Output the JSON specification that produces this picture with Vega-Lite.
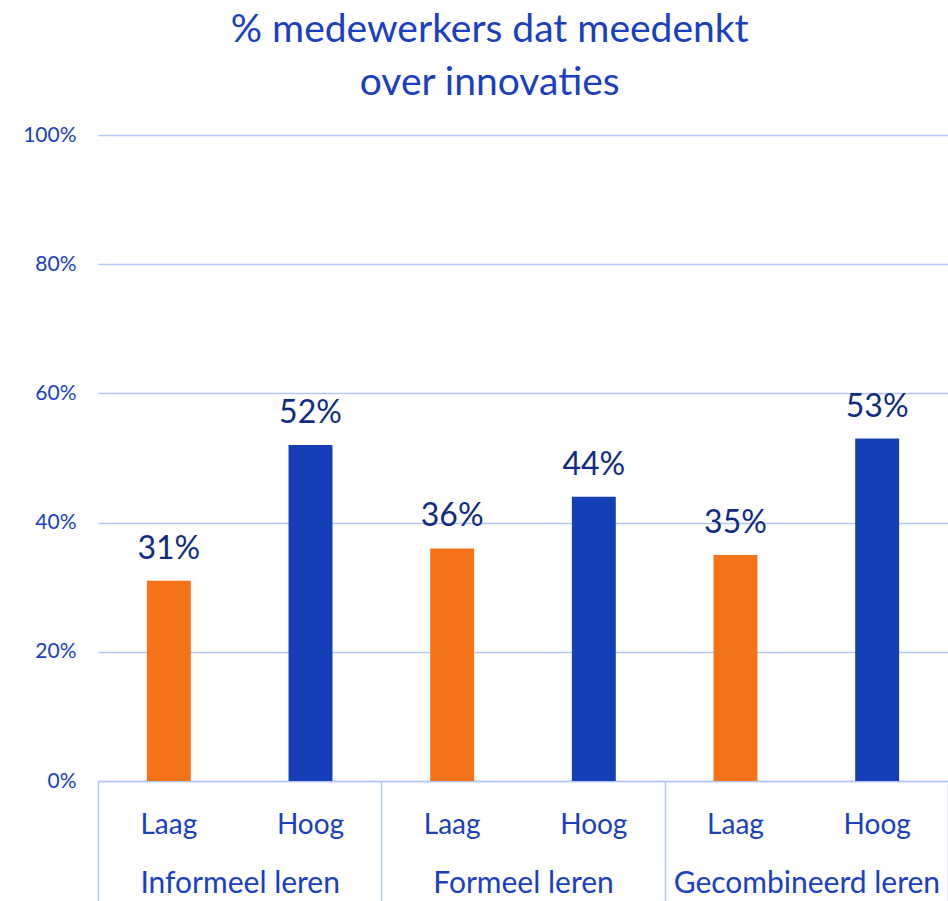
{
  "$schema": "https://vega.github.io/schema/vega-lite/v6.json",
  "width": 850,
  "height": 646,
  "autosize": "none",
  "padding": {"left": 98, "top": 135, "right": 0, "bottom": 120},
  "background": "white",
  "config": {"view": {"stroke": null}, "font": "Lato"},
  "title": {
    "text": ["% medewerkers dat meedenkt", "over innovaties"],
    "fontSize": 39,
    "fontWeight": "normal",
    "font": "Lato",
    "color": "#1A40C0",
    "anchor": "middle",
    "frame": "bounds",
    "dx": 4,
    "offset": 21,
    "lineHeight": 53
  },
  "data": {
    "values": [
      {"group": "Informeel leren", "level": "Laag", "key": "Informeel leren|Laag", "value": 31},
      {"group": "Informeel leren", "level": "Hoog", "key": "Informeel leren|Hoog", "value": 52},
      {"group": "Formeel leren", "level": "Laag", "key": "Formeel leren|Laag", "value": 36},
      {"group": "Formeel leren", "level": "Hoog", "key": "Formeel leren|Hoog", "value": 44},
      {"group": "Gecombineerd leren", "level": "Laag", "key": "Gecombineerd leren|Laag", "value": 35},
      {"group": "Gecombineerd leren", "level": "Hoog", "key": "Gecombineerd leren|Hoog", "value": 53}
    ]
  },
  "layer": [
    {
      "encoding": {
        "x": {
          "field": "key",
          "type": "nominal",
          "sort": null,
          "scale": {"paddingInner": 0.69, "paddingOuter": 0.345},
          "axis": {
            "orient": "bottom",
            "title": null,
            "labelExpr": "split(datum.label, '|')[1]",
            "labelAngle": 0,
            "ticks": false,
            "tickSize": 0,
            "grid": false,
            "domain": true,
            "domainColor": "#B4C7F5",
            "domainWidth": 1.5,
            "labelFontSize": 28,
            "labelColor": "#1A40C0",
            "labelBaseline": "alphabetic",
            "labelPadding": 52
          }
        },
        "y": {
          "field": "value",
          "type": "quantitative",
          "scale": {"domain": [0, 100]},
          "axis": {
            "title": null,
            "values": [0, 20, 40, 60, 80, 100],
            "labelExpr": "datum.value + '%'",
            "domain": false,
            "ticks": false,
            "labelPadding": 22,
            "labelFontSize": 21,
            "labelColor": "#1A40C0",
            "grid": true,
            "gridColor": "#B4C7F5",
            "gridWidth": 1.5
          }
        }
      },
      "layer": [
        {
          "mark": {"type": "bar"},
          "encoding": {
            "color": {
              "field": "level",
              "type": "nominal",
              "scale": {"domain": ["Laag", "Hoog"], "range": ["#F47218", "#153FB7"]},
              "legend": null
            }
          }
        },
        {
          "mark": {
            "type": "text",
            "baseline": "alphabetic",
            "dy": -22,
            "fontSize": 32,
            "color": "#0F2C82",
            "text": {"expr": "datum.value + '%'"}
          }
        }
      ]
    },
    {
      "mark": {"type": "tick", "opacity": 0},
      "encoding": {
        "x": {
          "field": "group",
          "type": "nominal",
          "sort": null,
          "scale": {"type": "band", "paddingInner": 0, "paddingOuter": 0},
          "axis": {
            "orient": "bottom",
            "title": null,
            "labelAngle": 0,
            "tickBand": "extent",
            "ticks": true,
            "tickSize": 120,
            "tickColor": "#B4C7F5",
            "tickWidth": 1.5,
            "domain": false,
            "grid": false,
            "labelFontSize": 30,
            "labelColor": "#1A40C0",
            "labelBaseline": "alphabetic",
            "labelPadding": -9,
            "labelLimit": 0
          }
        },
        "y": {"field": "value", "type": "quantitative"}
      }
    }
  ],
  "resolve": {"scale": {"x": "independent"}, "axis": {"x": "independent"}}
}
